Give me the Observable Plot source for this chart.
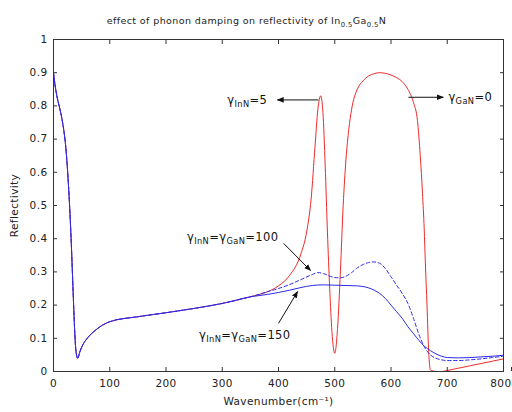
<!DOCTYPE html>
<html><head><meta charset="utf-8">
<script src="https://cdn.jsdelivr.net/npm/d3@7"></script>
<script src="https://cdn.jsdelivr.net/npm/@observablehq/plot@0.6"></script>
<style>html,body{margin:0;padding:0;background:#fff} svg{display:block}</style>
</head><body><div id="chart"></div>
<script>
// ---- data ----
const xTicks = [0, 100, 200, 300, 400, 500, 600, 700, 800];
const yTicks = [0, 0.1, 0.2, 0.3, 0.4, 0.5, 0.6, 0.7, 0.8, 0.9, 1];

// shared low-wavenumber part of all three curves
const wnLow = [0, 3, 6, 10, 14, 18, 21, 24, 27, 30, 32, 34, 36, 38, 40, 43, 47, 52, 60, 75, 100, 150, 200, 250, 300, 350];
const rLow  = [0.90, 0.86, 0.83, 0.80, 0.77, 0.73, 0.69, 0.63, 0.55, 0.45, 0.37, 0.28, 0.19, 0.11, 0.06, 0.04, 0.06, 0.08, 0.10, 0.125, 0.15, 0.165, 0.177, 0.19, 0.205, 0.225];

// gamma_InN = 5, gamma_GaN = 0 (red)
const wnRed = [380, 400, 420, 440, 450, 458, 465, 470, 475, 479, 483, 487, 491, 495, 500, 505, 510, 515, 520, 525, 530, 540, 550, 560, 570, 580, 590, 600, 610, 620, 630, 640, 647, 652, 656, 659, 661, 664, 667, 670, 680, 690, 700, 720, 740, 760, 780, 800];
const rRed  = [0.24, 0.258, 0.29, 0.355, 0.42, 0.52, 0.68, 0.79, 0.83, 0.78, 0.62, 0.42, 0.25, 0.12, 0.055, 0.13, 0.3, 0.5, 0.64, 0.73, 0.79, 0.85, 0.875, 0.89, 0.897, 0.9, 0.898, 0.893, 0.885, 0.873, 0.85, 0.81, 0.756, 0.65, 0.536, 0.43, 0.33, 0.2, 0.06, 0.005, 0, 0, 0.003, 0.01, 0.017, 0.024, 0.031, 0.038];

// gamma_InN = gamma_GaN = 100 (blue dashed)
const wnG100 = [380, 400, 420, 440, 460, 470, 480, 490, 500, 510, 520, 530, 540, 550, 560, 570, 580, 590, 600, 610, 620, 630, 640, 650, 660, 670, 680, 690, 700, 720, 740, 760, 780, 800];
const rG100  = [0.24, 0.25, 0.262, 0.277, 0.292, 0.298, 0.295, 0.288, 0.283, 0.282, 0.287, 0.298, 0.312, 0.322, 0.328, 0.33, 0.326, 0.31, 0.285, 0.26, 0.235, 0.205, 0.16, 0.11, 0.072, 0.05, 0.04, 0.035, 0.033, 0.033, 0.035, 0.038, 0.042, 0.046];

// gamma_InN = gamma_GaN = 150 (blue solid)
const wnG150 = [380, 400, 420, 440, 460, 480, 500, 520, 540, 550, 560, 570, 580, 590, 600, 610, 620, 630, 640, 650, 660, 670, 680, 690, 700, 720, 740, 760, 780, 800];
const rG150  = [0.232, 0.238, 0.245, 0.253, 0.259, 0.261, 0.26, 0.259, 0.258, 0.256, 0.252, 0.245, 0.235, 0.22, 0.2, 0.18, 0.16, 0.135, 0.114, 0.093, 0.075, 0.063, 0.053, 0.046, 0.042, 0.041, 0.042, 0.044, 0.046, 0.049];

// annotations
const annText   = ["γ_{InN}=5", "γ_{GaN}=0", "γ_{InN}=γ_{GaN}=100", "γ_{InN}=γ_{GaN}=150"];
const annX      = [380, 702, 400, 340];
const annY      = [0.818, 0.826, 0.405, 0.11];
const annAnchor = ["end", "start", "end", "middle"];
const arrX1 = [471, 631, 409, 400];
const arrY1 = [0.818, 0.826, 0.386, 0.145];
const arrX2 = [398, 693, 457, 434];
const arrY2 = [0.818, 0.826, 0.304, 0.241];

const titleText = "effect of phonon damping on reflectivity of In_{0.5}Ga_{0.5}N";

// ---- build tables ----
const series = (wn, r) => wnLow.map((w, i) => ({wn: w, r: rLow[i]})).concat(wn.map((w, i) => ({wn: w, r: r[i]})));
const red = series(wnRed, rRed);
const g100 = series(wnG100, rG100);
const g150 = series(wnG150, rG150);
const ann = annText.map((t, i) => ({t, x: annX[i], y: annY[i], a: annAnchor[i]}));
const arrows = arrX1.map((x, i) => ({x1: x, y1: arrY1[i], x2: arrX2[i], y2: arrY2[i]}));

const font = "'DejaVu Sans', Verdana, sans-serif";
const axisColor = "#333";
const annMark = anchor => Plot.text(ann.filter(d => d.a === anchor),
  {x: "x", y: "y", text: "t", textAnchor: anchor, fontSize: 11.5, fill: "#111", className: "ann-text"});
const lastTick = xTicks[xTicks.length - 1];

const chart = Plot.plot({
  width: 512, height: 412,
  marginLeft: 53, marginRight: 9, marginTop: 39, marginBottom: 41,
  style: {fontFamily: font, fontSize: "10.5px", color: "#222", background: "#fff", letterSpacing: "0.4px"},
  x: {domain: [0, 800]},
  y: {domain: [0, 1]},
  marks: [
    Plot.line(red, {x: "wn", y: "r", stroke: "#ee2a2a", strokeWidth: 1, curve: "monotone-x"}),
    Plot.line(g100, {x: "wn", y: "r", stroke: "#2a2ae8", strokeWidth: 1, strokeDasharray: "3.5,2.5", curve: "monotone-x"}),
    Plot.line(g150, {x: "wn", y: "r", stroke: "#2a2ae8", strokeWidth: 1, curve: "monotone-x"}),
    Plot.frame({stroke: axisColor}),
    Plot.axisX({anchor: "bottom", ticks: xTicks.filter(t => t !== lastTick), tickSize: -4, tickPadding: 12, stroke: axisColor,
      label: "Wavenumber(cm⁻¹)", labelAnchor: "center", labelOffset: 33, labelArrow: "none"}),
    Plot.axisX({anchor: "bottom", ticks: [lastTick], tickSize: -4, tickPadding: 12, stroke: axisColor, textAnchor: "end", dx: 8, label: null}),
    Plot.axisX({anchor: "top", ticks: xTicks, tickSize: -4, tickFormat: () => "", label: null, stroke: axisColor}),
    Plot.axisY({anchor: "left", ticks: yTicks, tickSize: -4, tickPadding: 10, tickFormat: d => String(d), stroke: axisColor,
      label: "Reflectivity", labelAnchor: "center", labelOffset: 43, labelArrow: "none"}),
    Plot.axisY({anchor: "right", ticks: yTicks, tickSize: -4, tickFormat: () => "", label: null, stroke: axisColor}),
    Plot.link(arrows, {x1: "x1", y1: "y1", x2: "x2", y2: "y2", stroke: "#111", strokeWidth: 1, className: "ann-link"}),
    annMark("end"), annMark("start"), annMark("middle"),
    Plot.text([titleText], {frameAnchor: "top", dy: -22, dx: -32, fontSize: 9.5, fill: "#222"})
  ]
});

document.getElementById("chart").appendChild(chart);

// arrow heads
const svg = d3.select(chart.tagName.toLowerCase() === "svg" ? chart : chart.querySelector("svg"));
svg.append("defs").append("marker")
  .attr("id", "annHead").attr("viewBox", "0 0 10 10").attr("refX", 9).attr("refY", 5)
  .attr("markerWidth", 7).attr("markerHeight", 7).attr("markerUnits", "userSpaceOnUse").attr("orient", "auto")
  .append("path").attr("d", "M0,1L10,5L0,9z").attr("fill", "#111");
svg.selectAll(".ann-link path").attr("marker-end", "url(#annHead)");

// subscripts written as _{...}
svg.selectAll("text").each(function () {
  const s = this.textContent;
  if (!s.includes("_{")) return;
  const fs = parseFloat(getComputedStyle(this).fontSize) || 10;
  const shift = +(fs * 0.3).toFixed(2);
  this.textContent = "";
  const parts = s.split(/(_\{[^}]*\})/).filter(p => p);
  let low = false;
  for (const p of parts) {
    const t = document.createElementNS("http://www.w3.org/2000/svg", "tspan");
    if (p.startsWith("_{")) {
      t.textContent = p.slice(2, -1);
      t.setAttribute("font-size", (fs * 0.72).toFixed(2));
      if (!low) { t.setAttribute("dy", shift); low = true; }
    } else {
      t.textContent = p;
      if (low) { t.setAttribute("dy", -shift); low = false; }
    }
    this.appendChild(t);
  }
});
</script>
</body></html>
